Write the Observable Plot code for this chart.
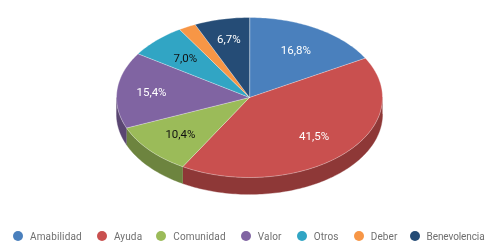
<!DOCTYPE html>
<html><head><meta charset="utf-8">
<script src="https://cdn.jsdelivr.net/npm/d3@7"></script>
<script src="https://cdn.jsdelivr.net/npm/@observablehq/plot@0.6"></script>
<style>
html,body{margin:0;padding:0;background:#fff;overflow:hidden}
#wrap{width:495px;height:249px;position:relative;filter:blur(0.55px)}
svg{display:block}
#legend{position:absolute;left:13px;top:230px;height:12px;display:flex;align-items:center;font:10px Roboto,sans-serif;letter-spacing:.15px;color:#6f6f6f;white-space:nowrap}
#legend .i{display:flex;align-items:center;margin-right:15px}
#legend .i:nth-child(2){margin-right:14px}
#legend .i:nth-child(6){margin-right:12px}
#legend .i:nth-child(7){letter-spacing:-.1px}
#legend .d{width:10px;height:10px;border-radius:50%;margin-right:7px}
</style></head><body><div id="wrap"><div id="chart"></div><div id="legend"></div></div>
<script>
const categories=["Amabilidad","Ayuda","Comunidad","Valor","Otros","Deber","Benevolencia"];
const values=[16.8,41.5,10.4,15.4,7.0,2.1,6.7];
const labels=["16,8%","41,5%","10,4%","15,4%","7,0%","","6,7%"];
const colors=["#4a80bd","#c9504f","#9bbb59","#8064a2","#31a5c4","#f79646","#254c76"];
const sideColors=["#345a85","#8e3837","#6d843f","#5a4672","#227490","#ad6931","#1a3553"];
const labelColors=["#fff","#fff","#111","#fff","#111","#fff","#fff"];

const total=d3.sum(values), depth=0.21, TAU=Math.PI*2;
const labelRadius=i=>(i===3||i===6)?0.74:0.69;
const pt=(a,dy=0)=>({x:Math.sin(a),y:Math.cos(a)-dy});
const arc=(a,b,dy=0)=>{const n=Math.max(2,Math.ceil((b-a)/0.02));return d3.range(n+1).map(i=>pt(a+(b-a)*i/n,dy));};
let acc=0;
const slices=values.map((v,i)=>{const a=acc/total*TAU;acc+=v;const b=acc/total*TAU;return{i,a,b,mid:(a+b)/2};});
const tops=slices.flatMap(s=>[{x:0,y:0},...arc(s.a,s.b)].map(p=>({...p,k:s.i,fill:colors[s.i]})));
const sides=slices.flatMap(s=>{
  const a=Math.max(s.a,Math.PI/2),b=Math.min(s.b,Math.PI*1.5);
  if(b<=a)return[];
  return [...arc(a,b),...arc(a,b,depth).reverse()].map(p=>({...p,k:s.i,fill:sideColors[s.i]}));
});
const texts=slices.map(s=>({x:Math.sin(s.mid)*labelRadius(s.i),y:Math.cos(s.mid)*labelRadius(s.i),t:labels[s.i],c:labelColors[s.i]}));

const chart=Plot.plot({
  width:495,height:230,margin:0,
  x:{domain:[-1,1],range:[116,382],axis:null},
  y:{domain:[1,-1],range:[17,177],axis:null},
  marks:[
    Plot.line(sides,{x:"x",y:"y",z:"k",fill:"fill",stroke:"fill",strokeWidth:0.4}),
    Plot.line(tops,{x:"x",y:"y",z:"k",fill:"fill",stroke:"#fff",strokeOpacity:0.45,strokeWidth:0.7,curve:"linear-closed"}),
    Plot.text(texts,{x:"x",y:"y",text:"t",fill:"c",fontSize:11.5,fontFamily:"Roboto",fontWeight:400})
  ]
});
document.getElementById("chart").append(chart);
const lg=document.getElementById("legend");
categories.forEach((c,i)=>{
  const it=document.createElement("div");it.className="i";
  const d=document.createElement("div");d.className="d";d.style.background=colors[i];
  const s=document.createElement("span");s.textContent=c;
  it.append(d,s);lg.append(it);
});
</script></body></html>
